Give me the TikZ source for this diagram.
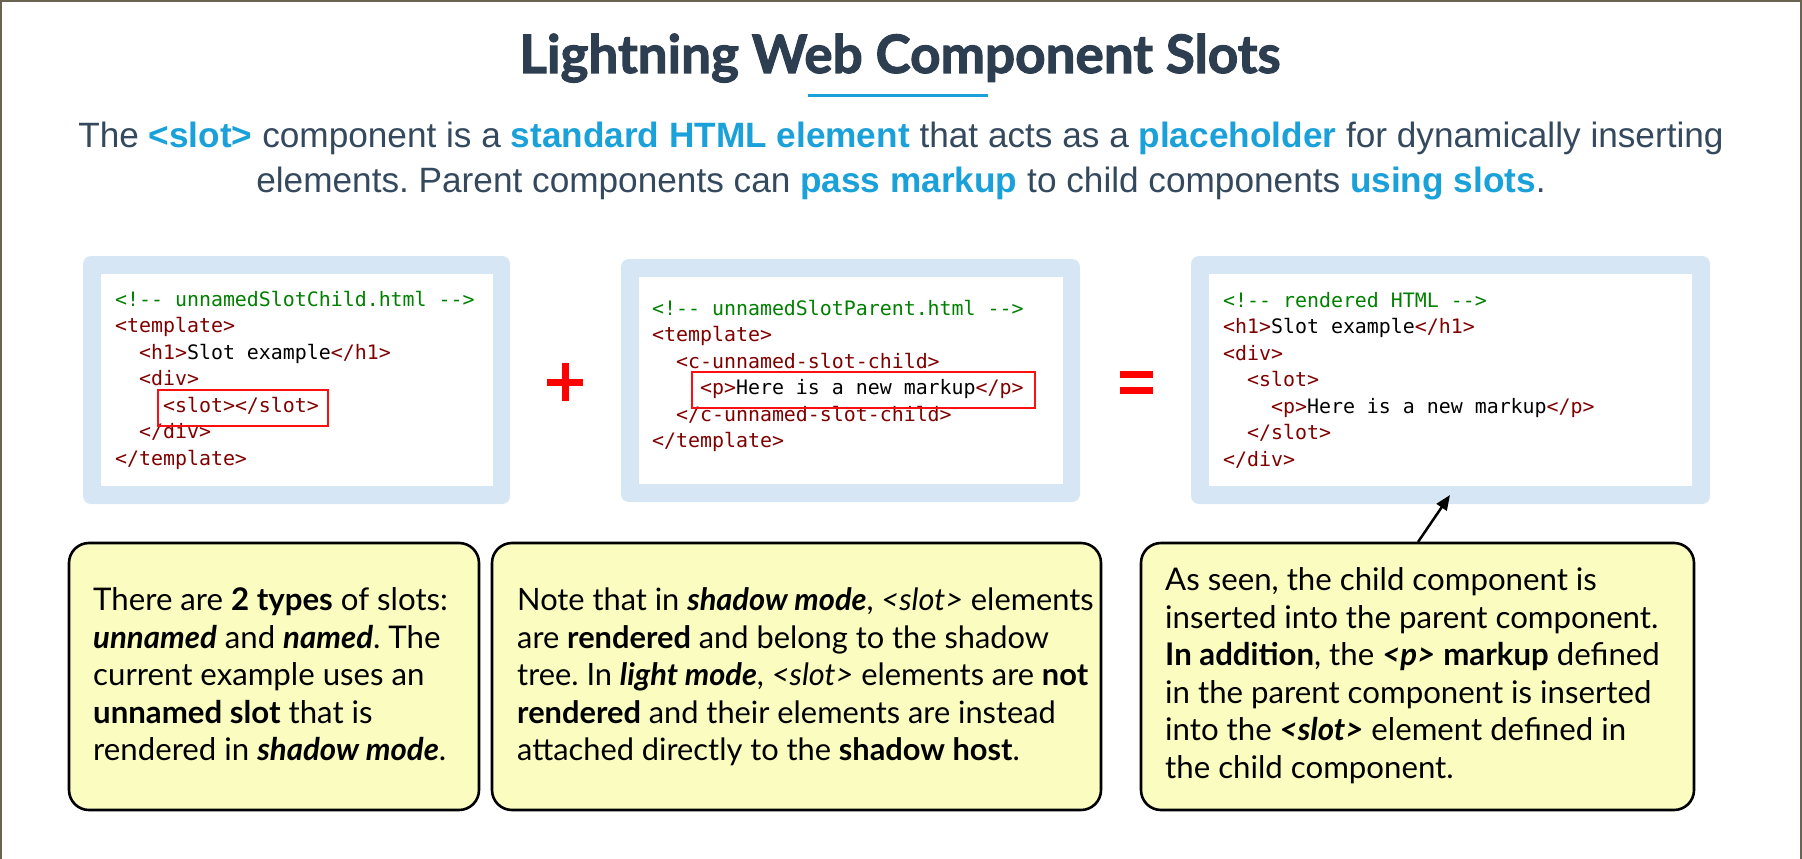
\documentclass[tikz,border=0pt]{standalone}
\usepackage{fontspec}
\setmainfont{Lato}
\setmonofont{DejaVu Sans Mono}
\newfontfamily\subfont{Liberation Sans}
\usetikzlibrary{arrows.meta}
\definecolor{titlecol}{HTML}{2C3E50}
\definecolor{subcol}{HTML}{34495E}
\definecolor{cyanhl}{HTML}{1BA1DA}
\definecolor{frameblue}{HTML}{D6E6F4}
\definecolor{cmtgreen}{HTML}{008000}
\definecolor{tagred}{HTML}{800000}
\definecolor{notefill}{HTML}{FAFCC0}
\definecolor{pageline}{HTML}{6B6352}
\definecolor{hlred}{HTML}{FF1010}
\newcommand\cm[1]{\textcolor{cmtgreen}{#1}}
\newcommand\tg[1]{\textcolor{tagred}{#1}}
\newcommand\dd{-\kern0pt-}
\newcommand\hl[1]{\textcolor{cyanhl}{\bfseries #1}}
\newcommand\bi[1]{\textbf{\textit{#1}}}
\frenchspacing
\tikzset{
  codeframe/.style={fill=frameblue, rounded corners=8pt, inner sep=0pt},
  codeinner/.style={fill=white, inner sep=0pt},
  codetext/.style={anchor=base west, inner sep=0pt, font=\ttfamily\fontsize{19.9}{26.5}\selectfont},
  note/.style={draw=black, line width=2.6pt, fill=notefill, rounded corners=20pt, inner sep=0pt},
  notetext/.style={anchor=west, inner sep=0pt, font=\fontsize{31.2}{37.5}\selectfont},
  redbox/.style={draw=hlred, line width=2.6pt},
  subline/.style={anchor=base, inner sep=0pt, text=subcol, font=\subfont\fontsize{35.2}{40}\selectfont},
  symbar/.style={fill=red}
}
\begin{document}
\begin{tikzpicture}[x=1pt,y=-1pt]
\useasboundingbox (0,0) rectangle (1802,859);
% page frame (top, left, right)
\draw[pageline, line width=2pt] (1,859) -- (1,1) -- (1800.5,1) -- (1800.5,859);

% title
\node[anchor=base, inner sep=0pt, text=titlecol, font=\fontsize{53}{60}\selectfont\bfseries\addfontfeature{FakeBold=2}] (title) at (900,73) {Lightning Web Component Slots};
\draw[cyanhl, line width=3pt] (808,95.5) -- (988,95.5);

\node[subline] (sub1) at (901,147.5) {The \hl{<slot>} component is a \hl{standard HTML element} that acts as a \hl{placeholder} for dynamically inserting};
\node[subline] (sub2) at (901,192) {elements. Parent components can \hl{pass markup} to child components \hl{using slots}.};

% code frame 1
\node[codeframe, minimum width=427pt, minimum height=248pt] (f1) at (296.5,380) {};
\node[codeinner, minimum width=392pt, minimum height=212pt] (w1) at (297,380) {};
\node[codetext] (c1) at (115,306) {\begin{tabular}[t]{@{}l@{}}
\cm{<!\dd{} unnamedSlotChild.html \dd>}\\
\tg{<template>}\\
\phantom{xx}\tg{<h1>}Slot example\tg{</h1>}\\
\phantom{xx}\tg{<div>}\\
\phantom{xxxx}\tg{<slot></slot>}\\
\phantom{xx}\tg{</div>}\\
\tg{</template>}
\end{tabular}};
\draw[redbox] (158,390) rectangle (328,426);

% plus
\fill[symbar] (547,379) rectangle (583,386);
\fill[symbar] (562,363) rectangle (569,401);

% code frame 2
\node[codeframe, minimum width=459pt, minimum height=243pt] (f2) at (850.5,380.5) {};
\node[codeinner, minimum width=424pt, minimum height=207pt] (w2) at (850.5,380.5) {};
\node[codetext] (c2) at (652,315) {\begin{tabular}[t]{@{}l@{}}
\cm{<!\dd{} unnamedSlotParent.html \dd>}\\
\tg{<template>}\\
\phantom{xx}\tg{<c-unnamed-slot-child>}\\
\phantom{xxxx}\tg{<p>}Here is a new markup\tg{</p>}\\
\phantom{xx}\tg{</c-unnamed-slot-child>}\\
\tg{</template>}
\end{tabular}};
\draw[redbox] (692,372) rectangle (1035,408);

% equals
\fill[symbar] (1120,371) rectangle (1153,378);
\fill[symbar] (1120,387) rectangle (1153,394);

% code frame 3
\node[codeframe, minimum width=519pt, minimum height=248pt] (f3) at (1450.5,380) {};
\node[codeinner, minimum width=483pt, minimum height=212pt] (w3) at (1450.5,380) {};
\node[codetext] (c3) at (1223,307) {\begin{tabular}[t]{@{}l@{}}
\cm{<!\dd{} rendered HTML \dd>}\\
\tg{<h1>}Slot example\tg{</h1>}\\
\tg{<div>}\\
\phantom{xx}\tg{<slot>}\\
\phantom{xxxx}\tg{<p>}Here is a new markup\tg{</p>}\\
\phantom{xx}\tg{</slot>}\\
\tg{</div>}
\end{tabular}};

% notes
\node[note, minimum width=410pt, minimum height=267pt] (nA) at (274,676.5) {};
\node[notetext] (tA) at (93,678) {\begin{tabular}{@{}l@{}}
There are \textbf{2 types} of slots:\\
\bi{unnamed} and \bi{named}. The\\
current example uses an\\
\textbf{unnamed slot} that is\\
rendered in \bi{shadow mode}.
\end{tabular}};

\node[note, minimum width=609pt, minimum height=267pt] (nB) at (796.5,676.5) {};
\node[notetext, font=\fontsize{30.8}{37.5}\selectfont] (tB) at (517,678) {\begin{tabular}{@{}l@{}}
Note that in \bi{shadow mode}, \textit{<slot>} elements\\
are \textbf{rendered} and belong to the shadow\\
tree. In \bi{light mode}, \textit{<slot>} elements are \textbf{not}\\
\textbf{rendered} and their elements are instead\\
attached directly to the \textbf{shadow host}.
\end{tabular}};

\node[note, minimum width=553pt, minimum height=267pt] (nC) at (1417.5,676.5) {};
\node[notetext] (tC) at (1165,677) {\begin{tabular}{@{}l@{}}
As seen, the child component is\\
inserted into the parent component.\\
\textbf{In addition}, the \bi{<p>} \textbf{markup} defined\\
in the parent component is inserted\\
into the \bi{<slot>} element defined in\\
the child component.
\end{tabular}};

% arrow
\coordinate (as) at (1418,542);
\coordinate (tip) at (1450,495);
\draw[line width=2.5pt, -{Triangle[length=15pt,width=12pt]}] (as) -- (tip);
\end{tikzpicture}
\end{document}
